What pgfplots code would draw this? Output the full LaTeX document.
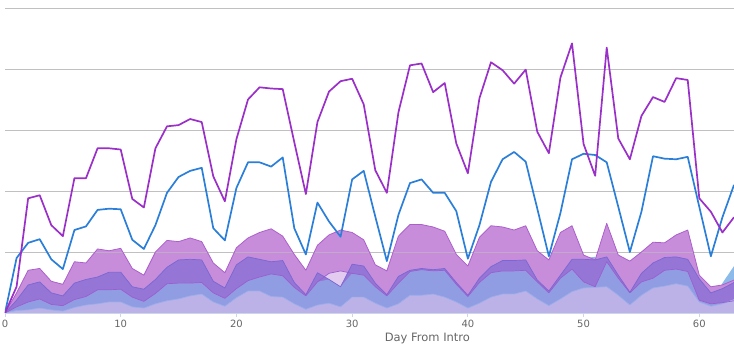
\documentclass[border=0pt]{standalone}
\usepackage{pgfplots}
\pgfplotsset{compat=1.18}
\usepackage{pgfplotstable}
\usepackage{fontspec}
\setmainfont{DejaVu Sans}
\definecolor{orch}{HTML}{C78DDB}
\definecolor{dpur}{HTML}{9575D5}
\definecolor{peri}{HTML}{919DE2}
\definecolor{lav}{HTML}{BDB2E8}
\definecolor{lpink}{HTML}{E3CBF0}
\definecolor{lblue}{HTML}{8CBBEA}
\definecolor{eT4}{HTML}{AC5FCB}
\definecolor{eD}{HTML}{7A67D3}
\definecolor{eY2}{HTML}{9B5ED0}
\definecolor{eL}{HTML}{9CAEEA}
\definecolor{eLB}{HTML}{74AEE6}
\definecolor{pline}{HTML}{9B30C8}
\definecolor{bline}{HTML}{2B7FD9}
\definecolor{gridc}{HTML}{C0C0C0}
\definecolor{axc}{HTML}{CCD6EB}
\definecolor{txt}{HTML}{666666}
\pgfplotstableread{
d purple blue T4 LB D Y2 P L
0 0 0 0 0 0 0 0 0
1 0.43 0.90 0.33 0 0.21 0.10 0.10 0.04
2 1.88 1.15 0.70 0 0.46 0.18 0.18 0.05
3 1.93 1.21 0.73 0 0.51 0.23 0.23 0.08
4 1.44 0.88 0.52 0 0.33 0.14 0.14 0.05
5 1.26 0.72 0.47 0 0.28 0.12 0.12 0.03
6 2.21 1.36 0.84 0 0.49 0.22 0.22 0.09
7 2.21 1.42 0.82 0 0.55 0.27 0.27 0.13
8 2.70 1.69 1.05 0 0.59 0.38 0.38 0.15
9 2.70 1.71 1.02 0 0.67 0.38 0.38 0.18
10 2.68 1.70 1.06 0 0.67 0.39 0.39 0.18
11 1.87 1.20 0.73 0 0.43 0.26 0.26 0.10
12 1.73 1.05 0.62 0 0.39 0.19 0.19 0.08
13 2.70 1.44 1.00 0 0.55 0.32 0.32 0.15
14 3.06 1.97 1.19 0 0.75 0.48 0.48 0.20
15 3.08 2.23 1.17 0 0.87 0.49 0.49 0.23
16 3.18 2.33 1.23 0 0.88 0.49 0.49 0.28
17 3.13 2.38 1.17 0 0.87 0.50 0.50 0.31
18 2.24 1.39 0.82 0 0.52 0.33 0.33 0.18
19 1.83 1.19 0.66 0 0.41 0.24 0.24 0.11
20 2.85 2.05 1.07 0 0.79 0.40 0.40 0.25
21 3.50 2.47 1.23 0 0.92 0.53 0.53 0.36
22 3.70 2.47 1.32 0 0.88 0.59 0.59 0.36
23 3.68 2.40 1.38 0 0.84 0.64 0.64 0.27
24 3.67 2.55 1.26 0 0.86 0.61 0.61 0.26
25 2.80 1.39 0.96 0 0.50 0.42 0.42 0.15
26 1.95 0.96 0.70 0 0.30 0.28 0.28 0.06
27 3.13 1.81 1.11 0 0.66 0.51 0.51 0.13
28 3.63 1.50 1.28 0 0.55 0.65 0.55 0.16
29 3.80 1.25 1.36 0 0.43 0.69 0.43 0.10
30 3.84 2.19 1.32 0 0.80 0.65 0.65 0.26
31 3.42 2.33 1.20 0 0.77 0.62 0.62 0.26
32 2.34 1.58 0.79 0 0.49 0.43 0.43 0.16
33 1.97 0.85 0.69 0 0.30 0.28 0.28 0.08
34 3.29 1.61 1.26 0 0.60 0.49 0.49 0.15
35 4.06 2.13 1.45 0 0.70 0.68 0.68 0.29
36 4.09 2.19 1.45 0 0.73 0.71 0.71 0.29
37 3.62 1.97 1.41 0 0.71 0.69 0.69 0.31
38 3.77 1.97 1.34 0 0.73 0.70 0.70 0.26
39 2.78 1.67 0.96 0 0.50 0.47 0.47 0.18
40 2.29 0.89 0.77 0 0.29 0.27 0.27 0.08
41 3.52 1.44 1.24 0 0.57 0.50 0.50 0.16
42 4.11 2.15 1.43 0 0.76 0.66 0.66 0.26
43 3.98 2.52 1.41 0 0.86 0.69 0.69 0.31
44 3.76 2.64 1.36 0 0.86 0.69 0.69 0.31
45 3.99 2.48 1.43 0 0.87 0.70 0.70 0.36
46 2.97 1.71 1.02 0 0.54 0.51 0.51 0.23
47 2.62 0.93 0.87 0 0.36 0.33 0.33 0.12
48 3.86 1.64 1.32 0 0.62 0.57 0.57 0.23
49 4.42 2.52 1.43 0 0.88 0.72 0.72 0.35
50 2.77 2.61 0.95 0.90 0.88 0.51 0.51 0.41
51 2.25 2.59 0.87 0.92 0.87 0.43 0.43 0.42
52 4.35 2.47 1.47 0 0.92 0.84 0.84 0.43
53 2.86 1.74 0.95 0 0.62 0.57 0.57 0.29
54 2.52 1.00 0.85 0 0.34 0.33 0.33 0.13
55 3.23 1.66 1.00 0 0.65 0.51 0.51 0.29
56 3.54 2.57 1.16 0 0.82 0.57 0.57 0.41
57 3.46 2.53 1.15 0 0.91 0.70 0.70 0.44
58 3.85 2.52 1.28 0 0.92 0.72 0.72 0.48
59 3.82 2.56 1.36 0 0.88 0.68 0.68 0.44
60 1.88 1.74 0.62 0 0.56 0.21 0.21 0.18
61 1.66 0.93 0.43 0.16 0.33 0.15 0.15 0.11
62 1.32 1.57 0.46 0.49 0.40 0.17 0.17 0.15
63 1.57 2.10 0.54 0.77 0.50 0.20 0.20 0.22
}\data
\begin{document}
\begin{tikzpicture}
\begin{axis}[name=ax, scale only axis, width=729pt, height=305pt,
  xmin=0, xmax=63, ymin=0, ymax=5,
  axis x line*=bottom, axis y line*=left,
  x axis line style={draw=axc, line width=0.8pt, -},
  y axis line style={draw=none},
  xtick={0,10,...,60}, ytick={1,2,3,4,5}, yticklabels={},
  ytick style={draw=none},
  xtick style={draw=axc, line width=0.8pt},
  tick align=outside, major tick length=4pt,
  ymajorgrids, grid style={draw=gridc, line width=0.8pt},
  /pgf/number format/assume math mode=true,
  ticklabel style={font=\fontsize{10}{12}\selectfont, text=txt},
  xlabel={Day From Intro},
  xlabel style={at={(axis description cs:0.5794,0)}, anchor=north, inner sep=0pt, yshift=-20pt, font=\fontsize{11.5}{13}\selectfont, text=txt},
  every axis plot/.append style={mark=none, line join=round},
]
\addplot[fill=lblue, draw=none] table[x=d,y=LB]{\data} \closedcycle;
\addplot[fill=orch, draw=none] table[x=d,y=T4]{\data} \closedcycle;
\addplot[fill=lpink, draw=none] table[x=d,y=Y2]{\data} \closedcycle;
\addplot[fill=dpur, draw=none] table[x=d,y=D]{\data} \closedcycle;
\addplot[fill=peri, draw=none] table[x=d,y=P]{\data} \closedcycle;
\addplot[fill=lav, draw=none] table[x=d,y=L]{\data} \closedcycle;
\addplot[draw=gridc, opacity=0.6, line width=0.8pt] coordinates {(0,1) (63,1)};
\addplot[draw=eL, line width=0.7pt] table[x=d,y=L]{\data};
\addplot[draw=eY2, line width=0.7pt] table[x=d,y=Y2]{\data};
\addplot[draw=eD, line width=0.7pt] table[x=d,y=D]{\data};
\addplot[draw=eT4, line width=0.8pt] table[x=d,y=T4]{\data};
\addplot[draw=bline, line width=1.7pt] table[x=d,y=blue]{\data};
\addplot[draw=pline, line width=1.7pt] table[x=d,y=purple]{\data};
\end{axis}
\pgfresetboundingbox
\path ([xshift=-5pt,yshift=-51pt]ax.south west) rectangle ([yshift=8pt]ax.north east);
\end{tikzpicture}
\end{document}
